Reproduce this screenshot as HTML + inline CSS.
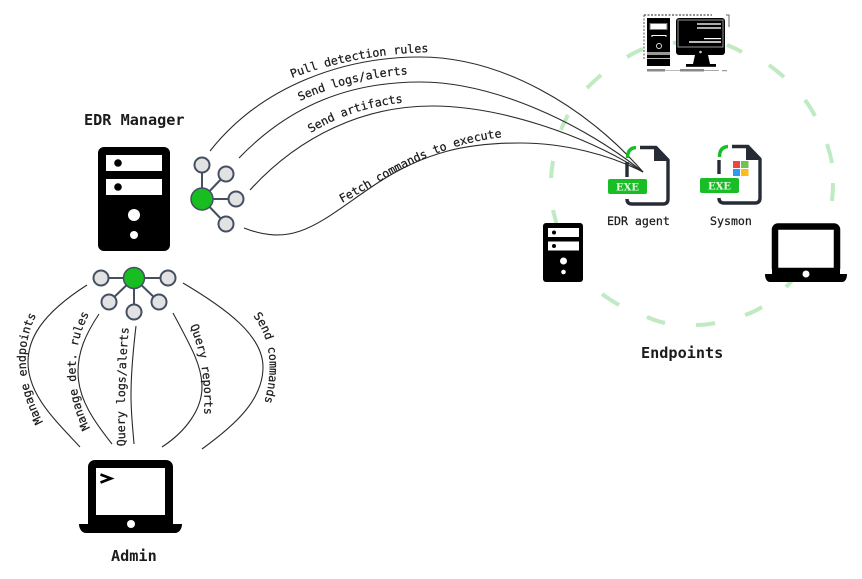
<!DOCTYPE html>
<html lang="en">
<head>
<meta charset="utf-8">
<title>EDR architecture</title>
<style>
html,body{margin:0;padding:0;background:#fff;width:862px;height:579px;overflow:hidden}
svg{display:block;filter:blur(.35px)}
text{font-family:"DejaVu Sans Mono","Liberation Mono",monospace;fill:#1c1c1c}
.t{font-size:15.2px;font-weight:bold}
.l{font-size:11.6px;stroke:#1c1c1c;stroke-width:.25px}
.c{fill:none;stroke:#2a2a2a;stroke-width:1.1}
.d{stroke:#bfeac2;stroke-width:4;fill:none;stroke-linecap:butt}
.e{stroke:#445062;stroke-width:2}
.n{fill:#e2e2e2;stroke:#445062;stroke-width:2}
.g{fill:#17bd21;stroke:#445062;stroke-width:1.5}
.f{fill:none;stroke:#262b36;stroke-width:3.4;stroke-linejoin:round}
.x{font-family:"DejaVu Serif","Liberation Serif",serif;font-size:10.5px;font-weight:bold;fill:#eaf7e6}
</style>
</head>
<body>
<svg width="862" height="579" viewBox="0 0 862 579" xmlns="http://www.w3.org/2000/svg">
<defs>
<path id="p1" d="M292 78 Q355 54 432 52"/>
<path id="p2" d="M300 101 Q350 78 412 74"/>
<path id="p3" d="M311 133 Q350 108 407 102"/>
<path id="p4" d="M342 203 C385 180 430 145 504 137"/>
<path id="a1" d="M43 422 C23 385 19 345 38 312"/>
<path id="a2" d="M90 428 C72 395 70 350 89 314"/>
<path id="a3" d="M125.500 446 C124 410 125 370 129 325"/>
<path id="a4" d="M190 326 C200 350 206 380 204 418"/>
<path id="a5" d="M253 316 C269 335 275 365 264 404"/>
</defs>

<!-- Endpoint ring -->
<path class="d" d="M627 57Q635 52 643 49M587 88Q594 81 601 75M561 130Q564 122 568 115M551 178Q551.500 170 553 161M553 210Q555 218 557 226M602 294Q610 300 619 305M647 317Q656 321 665 323M696 325Q706 325 715 323M745 315Q754 312 762 307M786 287Q791 282 795 277M833 183Q833 192 832 201M827 144Q830 153 832 163M805 100Q811 108 815 116M769 65Q777 71 784 77M727 45Q735 48 742 52M673 43Q680 42 690 42"/>

<!-- Agent connectors -->
<path class="c" d="M210 151C262 85 345 57 420 57C500 57 585 105 643 172"/>
<path class="c" d="M239 158C290 105 350 82 420 82C495 82 585 125 643 172"/>
<path class="c" d="M250 190C300 135 365 106 432 106C500 106 585 135 643 172"/>
<path class="c" d="M244 228C295 248 320 222 370 188C425 150 470 143 520 143C565 143 610 155 643 172"/>

<!-- Admin connectors -->
<path class="c" d="M87 285C40 315 28 340 28 362C28 395 55 420 80 447"/>
<path class="c" d="M99 314C85 335 78 352 78 372C78 400 95 422 112 444"/>
<path class="c" d="M136 326C132 360 131 380 131 395C131 415 133 430 134 444"/>
<path class="c" d="M173 313C190 345 202 365 202 387C202 410 185 432 162 447"/>
<path class="c" d="M183 283C225 308 263 335 263 367C263 400 235 425 202 449"/>

<!-- Agent labels -->
<text class="l"><textPath href="#p1">Pull detection rules</textPath></text>
<text class="l"><textPath href="#p2">Send logs/alerts</textPath></text>
<text class="l"><textPath href="#p3">Send artifacts</textPath></text>
<text class="l"><textPath href="#p4">Fetch commands to execute</textPath></text>

<!-- Admin labels -->
<text class="l"><textPath href="#a1">Manage endpoints</textPath></text>
<text class="l"><textPath href="#a2">Manage det. rules</textPath></text>
<text class="l"><textPath href="#a3">Query logs/alerts</textPath></text>
<text class="l"><textPath href="#a4">Query reports</textPath></text>
<text class="l"><textPath href="#a5">Send commands</textPath></text>

<!-- EDR Manager server -->
<text class="t" x="84" y="125">EDR Manager</text>
<rect x="98" y="147" width="72" height="104" rx="6" fill="#000"/>
<rect x="106" y="155" width="56" height="16" fill="#fff"/>
<rect x="106" y="179" width="56" height="16" fill="#fff"/>
<circle cx="118" cy="163" r="3.800" fill="#000"/>
<circle cx="118" cy="187" r="3.800" fill="#000"/>
<circle cx="134" cy="215" r="6" fill="#fff"/>
<circle cx="134" cy="235" r="4" fill="#fff"/>

<!-- Hub 1 -->
<path class="e" d="M202 199L202 165M202 199L226 174M202 199L236 199M202 199L226 224"/>
<circle class="n" cx="202" cy="165" r="7.500"/>
<circle class="n" cx="226" cy="174" r="7.500"/>
<circle class="n" cx="236" cy="199" r="7.500"/>
<circle class="n" cx="226" cy="224" r="7.500"/>
<circle class="g" cx="202" cy="199" r="11"/>

<!-- Hub 2 -->
<path class="e" d="M134 278L101 278M134 278L168 278M134 278L109 302M134 278L134 312M134 278L159 302"/>
<circle class="n" cx="101" cy="278" r="7.500"/>
<circle class="n" cx="168" cy="278" r="7.500"/>
<circle class="n" cx="109" cy="302" r="7.500"/>
<circle class="n" cx="134" cy="312" r="7.500"/>
<circle class="n" cx="159" cy="302" r="7.500"/>
<circle class="g" cx="134" cy="278" r="10.500"/>

<!-- Admin laptop -->
<rect x="92" y="464" width="77" height="55" rx="3" fill="#fff" stroke="#000" stroke-width="8"/>
<path d="M79 524H182C182 529 179 533 175 533H86C82 533 79 529 79 524Z" fill="#000"/>
<rect x="88" y="515" width="85" height="10" fill="#000"/>
<circle cx="131" cy="524" r="4" fill="#fff"/>
<path d="M100.500 474.500L111 478.500L100.500 482.500" fill="none" stroke="#000" stroke-width="2.600"/>
<text class="t" x="111" y="561">Admin</text>

<!-- Desktop -->
<path d="M644 15H712" fill="none" stroke="#222" stroke-width="1" stroke-dasharray="2 1.500"/>
<path d="M644 15V60" fill="none" stroke="#555" stroke-width="1" stroke-dasharray="2 1.500"/>
<path d="M726 15H729V27" fill="none" stroke="#666" stroke-width="1"/>
<rect x="647" y="18" width="23" height="48" fill="#000"/>
<rect x="650" y="23.500" width="17" height="6" fill="#fff" stroke="#777" stroke-width="1"/>
<path d="M652 37V35.500H666V37" fill="none" stroke="#fff" stroke-width="1"/>
<circle cx="659" cy="46" r="2.500" fill="none" stroke="#ddd" stroke-width="1"/>
<rect x="647" y="52" width="23" height="3" fill="#999"/>
<rect x="647" y="58" width="23" height="1" fill="#bbb"/>
<rect x="676" y="18" width="49" height="37" rx="3" fill="#000"/>
<rect x="678" y="20" width="45" height="27" fill="#000" stroke="#999" stroke-width="1"/>
<rect x="697" y="23" width="24" height="2" fill="#aaa"/>
<rect x="697" y="27" width="24" height="2" fill="#aaa"/>
<rect x="704" y="38" width="17" height="1.200" fill="#fff"/>
<rect x="689" y="41" width="32" height="2" fill="#bbb"/>
<circle cx="700.500" cy="52" r="1.300" fill="#ccc"/>
<path d="M695 55H708L710 64H693Z" fill="#000"/>
<rect x="686" y="64" width="30" height="2.800" fill="#000"/>
<rect x="647" y="69" width="18" height="2.500" fill="#888"/>
<rect x="665" y="70" width="15" height="1" fill="#bbb"/>
<rect x="680" y="69" width="24" height="2.500" fill="#888"/>
<rect x="704" y="70" width="15" height="1" fill="#aaa"/>
<rect x="722" y="70" width="5" height="1.200" fill="#999"/>

<!-- EDR agent file -->
<path class="f" d="M640 147.500H656L668 160V199Q668 204 663 204H632Q627 204 627 199"/>
<path d="M654 147L669 161H654Z" fill="#262b36"/>
<path class="f" d="M627 162V177"/>
<path d="M627.500 158Q627.500 148 636 147.500" fill="none" stroke="#19bd25" stroke-width="3.400"/>
<rect x="608" y="179" width="39" height="15" rx="2" fill="#19bd25"/>
<text class="x" x="616" y="190.500" textLength="23" lengthAdjust="spacingAndGlyphs">EXE</text>

<!-- Sysmon file -->
<path class="f" d="M732 146.500H748L760 159V198Q760 203 755 203H724Q719 203 719 198"/>
<path d="M746 146L761 160H746Z" fill="#262b36"/>
<path class="f" d="M719 160V174"/>
<path d="M719.500 157Q719.500 147 728 146.500" fill="none" stroke="#19bd25" stroke-width="3.400"/>
<rect x="733" y="161" width="7" height="7" fill="#f0453a"/>
<rect x="741" y="161" width="7.500" height="7" fill="#6cc452"/>
<rect x="733" y="169" width="7" height="7" fill="#2f9bee"/>
<rect x="741" y="169" width="7.500" height="7" fill="#fbbc1c"/>
<rect x="700" y="178" width="39" height="15" rx="2" fill="#19bd25"/>
<text class="x" x="708" y="189.500" textLength="23" lengthAdjust="spacingAndGlyphs">EXE</text>

<text class="l" x="607" y="225">EDR agent</text>
<text class="l" x="710" y="225">Sysmon</text>

<!-- Small server -->
<rect x="543" y="223" width="40" height="59" rx="3" fill="#000"/>
<rect x="548" y="228" width="31" height="9" fill="#fff"/>
<rect x="548" y="241.500" width="31" height="9" fill="#fff"/>
<circle cx="554" cy="232.500" r="2" fill="#000"/>
<circle cx="554" cy="246" r="2" fill="#000"/>
<circle cx="563.500" cy="261" r="3.500" fill="#fff"/>
<circle cx="563.500" cy="272" r="2.300" fill="#fff"/>

<!-- Right laptop -->
<rect x="775" y="226.500" width="62" height="44.500" rx="3" fill="#fff" stroke="#000" stroke-width="6.500"/>
<path d="M765 274H847C847 279 845 282 842 282H770C767 282 765 279 765 274Z" fill="#000"/>
<rect x="772" y="268" width="68" height="7" fill="#000"/>
<circle cx="806" cy="274" r="3.500" fill="#fff"/>

<text class="t" x="641" y="358">Endpoints</text>
</svg>
</body>
</html>
